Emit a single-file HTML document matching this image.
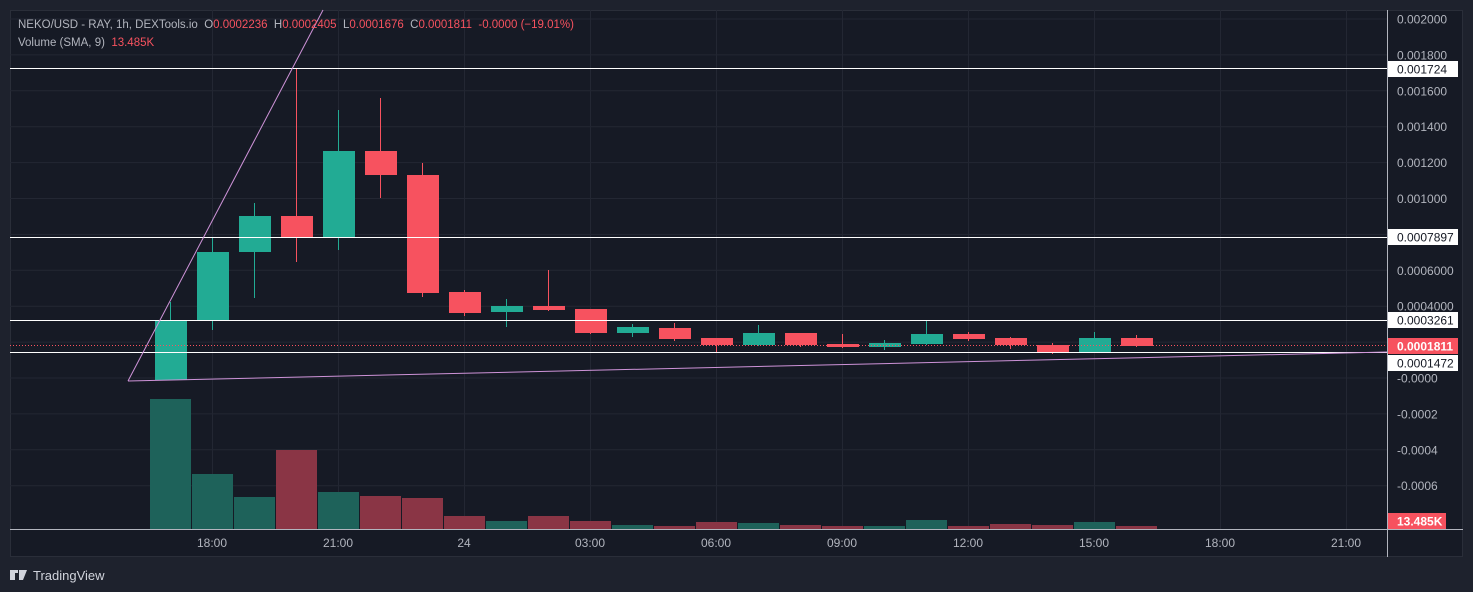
<!DOCTYPE html>
<html><head><meta charset="utf-8"><style>
body{margin:0;background:#1e222d;width:1473px;height:592px;overflow:hidden;font-family:"Liberation Sans",sans-serif}
svg{position:absolute;left:0;top:0}
</style></head><body>
<svg id="s" width="1473" height="592" xmlns="http://www.w3.org/2000/svg" font-family="Liberation Sans, sans-serif"></svg>
<script>
const s=document.getElementById('s');let h='';
h+='<rect x="10.5" y="10.5" width="1452" height="546" fill="#161a25" stroke="#2a2e39"/>';
const px=[212,338,464,590,716,842,968,1094,1220,1346];
px.forEach(x=>h+=`<line x1="${x+.5}" y1="10" x2="${x+.5}" y2="529" stroke="#232733"/>`);
const Y=p=>378-p*179500;
const ticks=[[0.002,'0.002000'],[0.0018,'0.001800'],[0.0016,'0.001600'],[0.0014,'0.001400'],[0.0012,'0.001200'],[0.001,'0.001000'],[0.0008,''],[0.0006,'0.0006000'],[0.0004,'0.0004000'],[0.0002,''],[0,'-0.0000'],[-0.0002,'-0.0002'],[-0.0004,'-0.0004'],[-0.0006,'-0.0006']];
ticks.forEach(([p,l])=>{const y=Y(p);h+=`<line x1="10" y1="${y}" x2="1387" y2="${y}" stroke="#232733"/>`;if(l)h+=`<text x="1397" y="${y+4.5}" fill="#b2b5be" font-size="12">${l}</text>`;});
const vt=[399,474,497,450,492,496,498,516,521,516,521,525,526,522,523,525,526,526,520,526,524,525,522,526];
const vc='gggrgrrrgrrgrrgrrggrrrgr';
vt.forEach((t,i)=>{const x=150+i*42;h+=`<rect x="${x}" y="${t}" width="41" height="${529-t}" fill="${vc[i]=='g'?'#1e625a':'#8a3545'}"/>`});
const c=[[321,380,302,380,'g'],[252,321,238,330,'g'],[216,252,203,298,'g'],[216,237,68,262,'r'],[151,237,110,250,'g'],[151,175,98,198,'r'],[175,293,163,297,'r'],[292,313,290,316,'r'],[306,312,299,327,'g'],[306,310,270,311,'r'],[309,333,309,334,'r'],[327,333,324,337,'g'],[328,339,323,341,'r'],[338,345,338,352,'r'],[333,345,325,346,'g'],[333,345,333,347,'r'],[344,347,334,348,'r'],[343,347,340,350,'g'],[334,344,320,345,'g'],[334,339,332,341,'r'],[338,345,337,349,'r'],[345,352,343,354,'r'],[338,352,332,353,'g'],[338,346,335,347,'r']];
c.forEach((d,i)=>{const x=170+i*42;const col=d[4]=='g'?'#22ab94':'#f7525f';h+=`<line x1="${x+.5}" y1="${d[2]}" x2="${x+.5}" y2="${d[3]}" stroke="${col}"/><rect x="${x-15}" y="${d[0]}" width="32" height="${Math.max(2,d[1]-d[0])}" fill="${col}"/>`});
[68.5,237.5,320.5,352.5].forEach(y=>h+=`<line x1="10" y1="${y}" x2="1387" y2="${y}" stroke="#fff"/>`);
h+='<line x1="10" y1="345.5" x2="1387" y2="345.5" stroke="#f7525f" stroke-dasharray="1,2"/>';
h+='<line x1="128" y1="381" x2="323" y2="10" stroke="#ce93d8"/><line x1="128" y1="381" x2="1387" y2="352" stroke="#ce93d8"/>';
h+='<line x1="1387.5" y1="10" x2="1387.5" y2="557" stroke="#b2b5be"/><line x1="10" y1="529.5" x2="1463" y2="529.5" stroke="#b2b5be"/>';
const tl=['18:00','21:00','24','03:00','06:00','09:00','12:00','15:00','18:00','21:00'];
tl.forEach((l,i)=>h+=`<text x="${px[i]}" y="547" fill="#b2b5be" font-size="12" text-anchor="middle">${l}</text>`);
const lab=(y,t,bg,fg,b)=>{h+=`<rect x="1388" y="${y-8}" width="70" height="16" fill="${bg}"/><text x="1397" y="${y+4.5}" fill="${fg}" font-size="12" ${b?'font-weight="bold"':''}>${t}</text>`};
lab(69,'0.001724','#fff','#131722');lab(237,'0.0007897','#fff','#131722');lab(320,'0.0003261','#fff','#131722');lab(346,'0.0001811','#f7525f','#fff',1);lab(363,'0.0001472','#fff','#131722');
h+='<rect x="1388" y="513" width="58" height="16" fill="#f7525f"/><text x="1397" y="525.5" fill="#fff" font-size="12" font-weight="bold">13.485K</text>';
h+='<text x="18" y="28" font-size="11.5" fill="#b2b5be" xml:space="preserve" style="white-space:pre">NEKO/USD - RAY, 1h, DEXTools.io  O<tspan fill="#f7525f">0.0002236</tspan>  H<tspan fill="#f7525f">0.0002405</tspan>  L<tspan fill="#f7525f">0.0001676</tspan>  C<tspan fill="#f7525f">0.0001811  -0.0000 (−19.01%)</tspan></text>';
h+='<text x="18" y="46" font-size="11.5" fill="#b2b5be" xml:space="preserve" style="white-space:pre">Volume (SMA, 9)  <tspan fill="#f7525f">13.485K</tspan></text>';
h+='<path d="M10 570h8v3h-3v7h-5zM19 570h8l-4 10h-4z" fill="#d1d4dc"/><text x="33" y="580" font-size="13" fill="#d1d4dc">TradingView</text>';
s.innerHTML=h;
</script>
</body></html>
